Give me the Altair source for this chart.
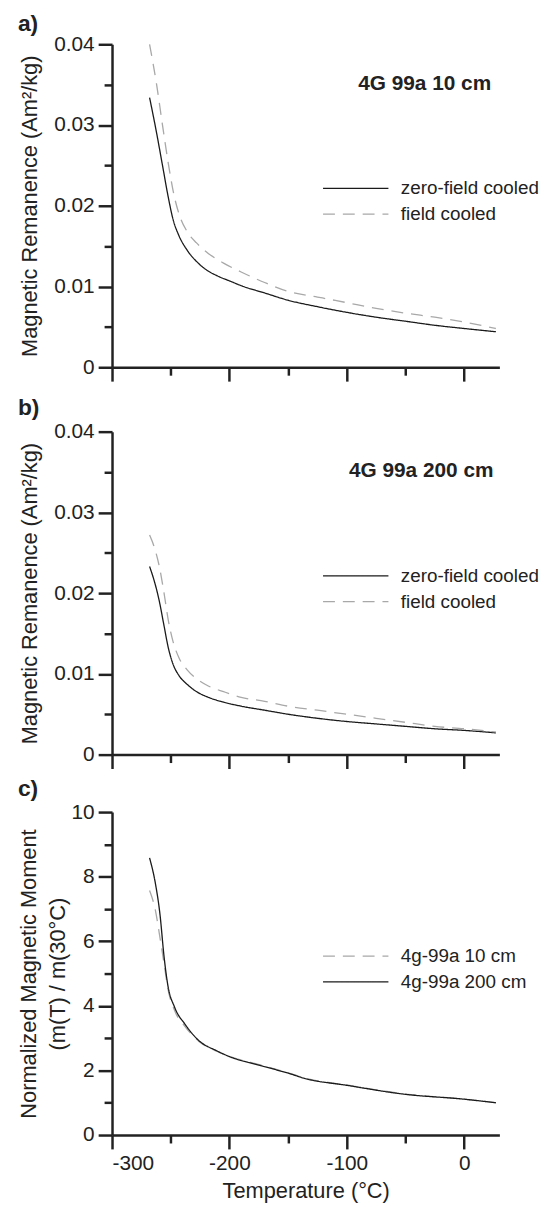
import altair as alt
import pandas as pd

FONT = "Liberation Sans"
INK = "#1a1a1a"
GREY = "#a8a8a8"
TXT = "#222222"

# ---------------- data ----------------
# Panel a: 4G 99a 10 cm
a_zfc_T = [-268, -262, -257, -252, -248, -243, -236, -228, -220, -210, -200, -188, -170, -150, -125, -100, -75, -50, -25, 0, 27]
a_zfc_M = [0.0334, 0.0290, 0.0250, 0.0210, 0.0183, 0.0163, 0.0145, 0.0131, 0.0121, 0.0113, 0.0107, 0.0100,
           0.0092, 0.0083, 0.0075, 0.0068, 0.0062, 0.0057, 0.0052, 0.0048, 0.0044]
a_fc_T = [-268, -262, -257, -252, -247, -242, -236, -228, -218, -205, -190, -170, -150, -125, -100, -75, -50, -25, 0, 27]
a_fc_M = [0.0400, 0.0350, 0.0300, 0.0252, 0.0212, 0.0186, 0.0168, 0.0154, 0.0141, 0.0129, 0.0118, 0.0105,
          0.0094, 0.0087, 0.0080, 0.0073, 0.0067, 0.0062, 0.0056, 0.0048]

# Panel b: 4G 99a 200 cm
b_zfc_T = [-268, -264, -260, -256, -252, -248, -243, -236, -228, -218, -205, -190, -170, -150, -125, -100, -75, -50, -25, 0, 27]
b_zfc_M = [0.0233, 0.0215, 0.0192, 0.0162, 0.0132, 0.0112, 0.0098, 0.0087, 0.0078, 0.0071, 0.0065, 0.0060,
           0.0055, 0.0050, 0.0045, 0.0041, 0.0038, 0.0035, 0.0032, 0.0030, 0.0027]
b_fc_T = [-268, -264, -260, -256, -252, -248, -243, -236, -228, -218, -205, -190, -170, -150, -125, -100, -75, -50, -25, 0, 27]
b_fc_M = [0.0272, 0.0257, 0.0235, 0.0203, 0.0166, 0.0140, 0.0120, 0.0105, 0.0094, 0.0085, 0.0078, 0.0071,
          0.0066, 0.0060, 0.0055, 0.0050, 0.0045, 0.0040, 0.0035, 0.0032, 0.0028]

# Panel c: normalized m(T)/m(30 C)
c_10_T = [-268, -263, -259.2, -255.6, -252.6, -246.6, -237.8, -225.9, -210.9, -200, -172.3, -148.5, -136.5, -100, -50, 0, 27]
c_10_M = [7.57, 6.95, 6.12, 5.29, 4.57, 3.85, 3.36, 2.90, 2.60, 2.44, 2.16, 1.91, 1.77, 1.55, 1.27, 1.11, 1.0]
c_200_T = [-268, -263, -259.2, -255.6, -252.6, -246.6, -237.8, -225.9, -210.9, -200, -172.3, -148.5, -136.5, -100, -50, 0, 27]
c_200_M = [8.58, 7.78, 6.85, 5.50, 4.67, 3.95, 3.43, 2.92, 2.61, 2.43, 2.14, 1.90, 1.76, 1.54, 1.26, 1.11, 1.0]

series_ab = ["zero-field cooled", "field cooled"]
series_c = ["4g-99a 10 cm", "4g-99a 200 cm"]
notes = ["4G 99a 10 cm", "4G 99a 200 cm"]
panel_tags = ["a)", "b)", "c)"]

x_ticks = list(range(-300, 1, 50))
y_ticks_ab = [round(i * 0.005, 3) for i in range(9)]
y_ticks_c = list(range(0, 11))


def frame(pairs):
    rows = []
    for name, ts, ms in pairs:
        for t, m in zip(ts, ms):
            rows.append({"series": name, "T": t, "M": m})
    return pd.DataFrame(rows)


W, H = 391, 326


def panel(df, order, colors, dashes, ymax, yvals, ylab_expr, ymajor, ytitle, ytitle_pad,
          tag, tag_offset, note=None, note_x=25, bottom=False):
    xaxis_kw = dict(
        values=x_ticks,
        tickSize={"condition": {"test": "datum.value % 100 === 0", "value": 14}, "value": 8},
        labelExpr="datum.value % 100 === 0 ? '' + datum.value : ''",
        labels=bottom,
        labelPadding=4,
        title="Temperature (°C)" if bottom else "",
        titlePadding=7,
    )
    yaxis = alt.Axis(
        values=yvals,
        tickSize={"condition": {"test": ymajor, "value": 14}, "value": 8},
        labelExpr=ylab_expr,
        labelPadding=4,
        title=ytitle,
        titlePadding=ytitle_pad,
        titleLineHeight=29,
    )
    leg = alt.Legend(
        title=None, orient="none", legendX=236.5, legendY=136,
        symbolType="M-6,0L6,0", symbolSize=121, symbolStrokeWidth=1.3,
        labelFont=FONT, labelFontSize=19, labelColor=TXT, labelOffset=36,
        rowPadding=6, padding=0,
    )
    base = alt.Chart(df)
    lines = base.mark_line(strokeWidth=1.3, interpolate="monotone").encode(
        x=alt.X("T:Q", scale=alt.Scale(domain=[-300, 30], nice=False, zero=False), axis=alt.Axis(**xaxis_kw)),
        y=alt.Y("M:Q", scale=alt.Scale(domain=[0, ymax], nice=False), axis=yaxis),
        color=alt.Color("series:N", scale=alt.Scale(domain=order, range=colors), legend=leg),
        strokeDash=alt.StrokeDash("series:N", scale=alt.Scale(domain=order, range=dashes), legend=leg),
        order=alt.Order("rank:Q"),
    )
    layers = [lines]
    if note is not None:
        ndf = pd.DataFrame({"text": [note], "T": [note_x], "M": [ymax * 0.86]})
        layers.append(
            alt.Chart(ndf).mark_text(align="right", baseline="alphabetic", font=FONT, fontSize=21,
                                     fontWeight="bold", color=TXT).encode(
                x="T:Q", y="M:Q", text="text:N")
        )
    return alt.layer(*layers).properties(
        width=W, height=H,
        title=alt.TitleParams(tag, anchor="start", frame="group", dx=-95, offset=tag_offset,
                              fontSize=23, fontWeight="bold", font=FONT, color=TXT, baseline="alphabetic"),
    )


df_a = frame([("zero-field cooled", a_zfc_T, a_zfc_M), ("field cooled", a_fc_T, a_fc_M)])
df_b = frame([("zero-field cooled", b_zfc_T, b_zfc_M), ("field cooled", b_fc_T, b_fc_M)])
df_c = frame([("4g-99a 10 cm", c_10_T, c_10_M), ("4g-99a 200 cm", c_200_T, c_200_M)])
df_a["rank"] = df_a["T"]
df_b["rank"] = df_b["T"]
df_c["rank"] = df_c["T"]

ab_expr = "round(datum.value*1000) % 10 === 0 ? (datum.value === 0 ? '0' : format(datum.value, '.2f')) : ''"
ab_major = "round(datum.value*1000) % 10 === 0"
ab_title = "Magnetic Remanence (Am²/kg)"

pa = panel(df_a, series_ab, [INK, GREY], [[1, 0], [12, 8]], 0.04, y_ticks_ab, ab_expr, ab_major,
           ab_title, 12, panel_tags[0], -21, note=notes[0], note_x=23)
pb = panel(df_b, series_ab, [INK, GREY], [[1, 0], [12, 8]], 0.04, y_ticks_ab, ab_expr, ab_major,
           ab_title, 12, panel_tags[1], -17, note=notes[1], note_x=25)
pc = panel(df_c, series_c, [GREY, INK], [[12, 8], [1, 0]], 10, y_ticks_c,
           "datum.value % 2 === 0 ? datum.label : ''", "datum.value % 2 === 0",
           ["Normalized Magnetic Moment", "(m(T) / m(30°C)"], 2, panel_tags[2], -18, bottom=True)

inner = alt.vconcat(pa, pb, spacing=14).resolve_scale(color="independent", strokeDash="independent")
chart = alt.vconcat(inner, pc, spacing=8).resolve_scale(
    color="independent", strokeDash="independent"
).properties(
    padding={"left": 9, "top": 0, "right": 0, "bottom": 0}
).configure_view(strokeWidth=0).configure_axis(
    grid=False, domainColor=TXT, domainWidth=2.5, tickColor=TXT, tickWidth=2.5,
    labelFont=FONT, labelFontSize=21, labelColor=TXT,
    titleFont=FONT, titleFontSize=22, titleFontWeight="normal", titleColor=TXT,
)

chart.save("out.html", embed_options={"renderer": "svg", "actions": False})
